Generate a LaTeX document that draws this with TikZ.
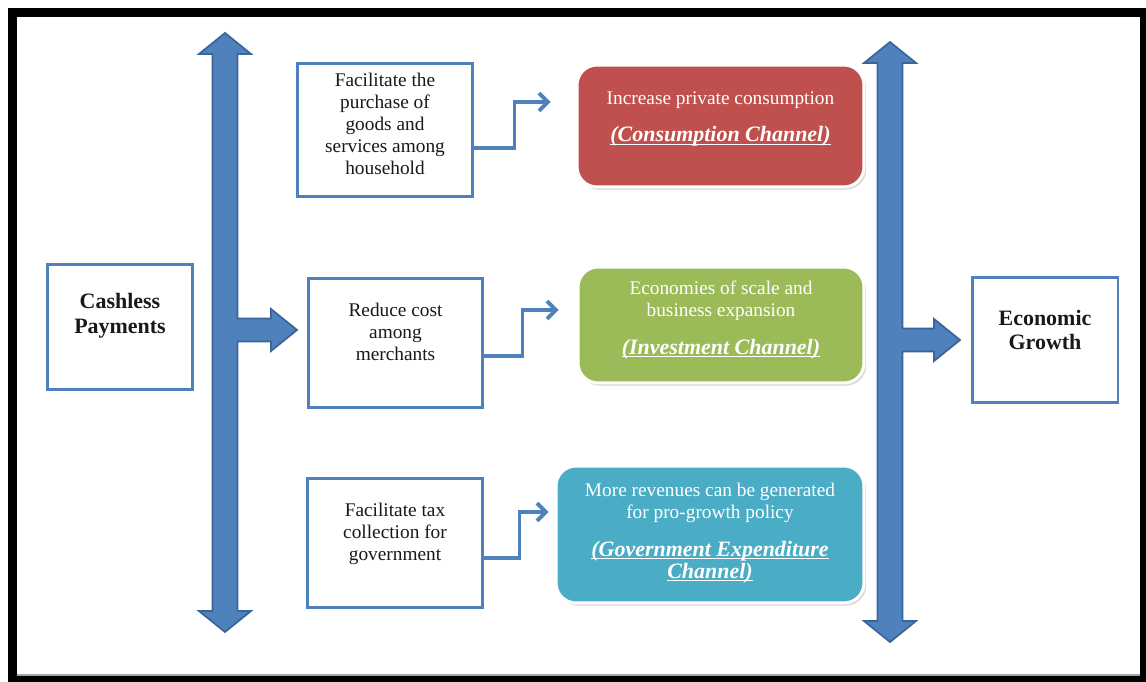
\documentclass[tikz,border=0pt]{standalone}
\usepackage{fontspec}
\setmainfont{Liberation Serif}
\usetikzlibrary{arrows.meta,calc,shadows}
\definecolor{frameblue}{HTML}{4F81BD}
\definecolor{arrowdark}{HTML}{3A6598}
\definecolor{channelred}{HTML}{C0504D}
\definecolor{channelgreen}{HTML}{9BBB59}
\definecolor{channelteal}{HTML}{4BACC6}
\newcommand\colorBoxline{frameblue}
\newcommand\colorTee{frameblue}
\newcommand\shaftHalf{12.5}
\newcommand\headHalf{26}
\newcommand\headLen{21}
\newcommand\branchHalf{11.5}
\newcommand\branchHead{21}
\newcommand\branchLen{26}
\newcommand\drawTeeArrow[5]{% #1 shaft x, #2 top tip, #3 bottom tip, #4 branch y, #5 branch tip
	\draw[teearrow] (#1,#2) -- (#1+\headHalf,#2+\headLen) -- (#1+\shaftHalf,#2+\headLen)
		-- (#1+\shaftHalf,#4-\branchHalf) -- (#5-\branchLen,#4-\branchHalf) -- (#5-\branchLen,#4-\branchHead)
		-- (#5,#4) -- (#5-\branchLen,#4+\branchHead) -- (#5-\branchLen,#4+\branchHalf)
		-- (#1+\shaftHalf,#4+\branchHalf) -- (#1+\shaftHalf,#3-\headLen) -- (#1+\headHalf,#3-\headLen)
		-- (#1,#3) -- (#1-\headHalf,#3-\headLen) -- (#1-\shaftHalf,#3-\headLen)
		-- (#1-\shaftHalf,#2+\headLen) -- (#1-\headHalf,#2+\headLen) -- cycle;
}
\newcommand\channelName[1]{{\bfseries\itshape\fontsize{12.5}{13}\selectfont\underline{\smash{#1}}}}
\tikzset{
	box/.style={draw=\colorBoxline, line width=1.7pt, fill=white, inner sep=0pt},
	channel/.style={rounded corners=0.4cm, draw=white, line width=1.7pt, inner sep=0pt,
		drop shadow={shadow xshift=1.2pt, shadow yshift=-1.5pt, fill=black!30}},
	link/.style={draw=\colorBoxline, line width=2.2pt, -{Straight Barb[length=5pt,width=10pt]}},
	teearrow/.style={fill=\colorTee, draw=arrowdark, line width=1pt},
	bodytext/.style={font=\fontsize{11}{12.5}\selectfont, align=center, text=black!90},
	headtext/.style={font=\bfseries\fontsize{12.5}{14}\selectfont, align=center, text=black!90},
	channeltext/.style={font=\fontsize{11}{12.5}\selectfont, align=center, text=white}
}

\begin{document}
\begin{tikzpicture}[x=0.02cm, y=-0.02cm]
	\useasboundingbox (0,0) rectangle (1146,682);
	% frame
	\fill[black] (8,8) rectangle (1146,682);
	\fill[white] (17,17) rectangle (1140,674);
	\fill[black!35] (17,674) rectangle (1140,676);

	% block arrows
	\drawTeeArrow{225}{33}{632}{330}{297}
	\drawTeeArrow{890}{42}{642}{340}{960}

	% outer boxes
	\node[box, minimum width=2.92cm, minimum height=2.52cm] (cashless) at (120,327) {};
	\node[headtext] (cashless-text) at ([yshift=6.5pt]cashless.center) {Cashless\\Payments};
	\node[box, minimum width=2.92cm, minimum height=2.52cm] (growth) at (1045,340) {};
	\node[headtext] (growth-text) at ([yshift=5.7pt]growth.center) {Economic\\Growth};

	% mechanisms
	\node[box, minimum width=3.52cm, minimum height=2.68cm] (purchase) at (385,130) {};
	\node[bodytext] (purchase-text) at ([yshift=3.4pt]purchase.center)
		{Facilitate the\\purchase of\\goods and\\services among\\household};
	\node[box, minimum width=3.50cm, minimum height=2.60cm] (cost) at (395.5,343) {};
	\node[bodytext] (cost-text) at ([yshift=6.5pt]cost.center) {Reduce cost\\among\\merchants};
	\node[box, minimum width=3.52cm, minimum height=2.60cm] (tax) at (395,543) {};
	\node[bodytext] (tax-text) at ([yshift=5.4pt]tax.center) {Facilitate tax\\collection for\\government};

	% channels
	\node[channel, fill=channelred, minimum width=5.74cm, minimum height=2.44cm] (consume) at (720.5,126) {};
	\node[channeltext] (consume-text) at ([yshift=4.3pt]consume.center)
		{Increase private consumption\\[9pt]\channelName{(Consumption Channel)}};
	\node[channel, fill=channelgreen, minimum width=5.72cm, minimum height=2.32cm] (invest) at (721,325) {};
	\node[channeltext] (invest-text) at ([yshift=3.2pt]invest.center)
		{Economies of scale and\\business expansion\\[9pt]\channelName{(Investment Channel)}};
	\node[channel, fill=channelteal, minimum width=6.16cm, minimum height=2.74cm] (govt) at (710,534.5) {};
	\node[channeltext] (govt-text) at ([yshift=1.2pt]govt.center)
		{More revenues can be generated\\for pro-growth policy\\[9pt]\channelName{(Government Expenditure}\\\channelName{Channel)}};

	% elbow links
	\draw[link] ($(purchase.east)+(0,18)$) -- ++(40,0) |- ($(consume.west)+(-25,-24)$);
	\draw[link] ($(cost.east)+(0,13)$) -- ++(38,0) |- ($(invest.west)+(-18,-15)$);
	\draw[link] ($(tax.east)+(0,15)$) -- ++(35,0) |- ($(govt.west)+(-6,-22.5)$);
\end{tikzpicture}
\end{document}
